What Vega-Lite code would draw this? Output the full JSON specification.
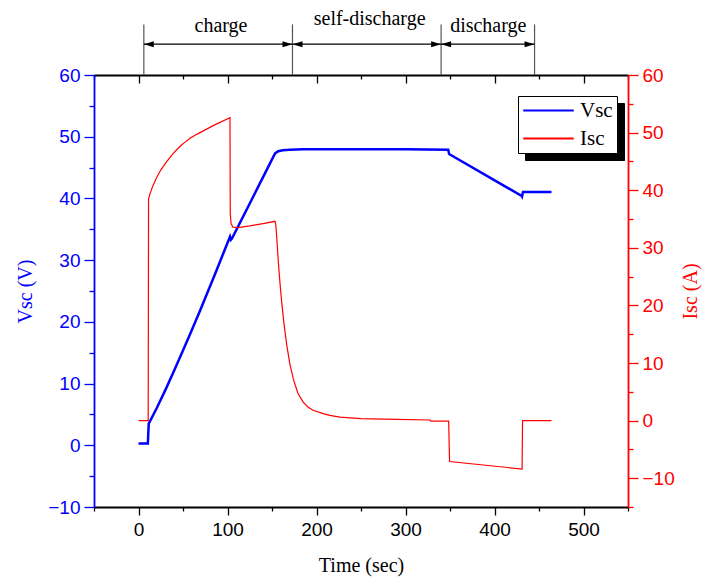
{
  "$schema": "https://vega.github.io/schema/vega-lite/v6.json",
  "width": 534,
  "height": 432,
  "autosize": {"type": "none"},
  "padding": {"left": 94, "top": 75, "right": 74, "bottom": 74},
  "background": "#ffffff",
  "datasets": {
    "readings": [
      {"series": "Vsc", "t": 0, "value": 0.3},
      {"series": "Vsc", "t": 10.5, "value": 0.3},
      {"series": "Vsc", "t": 11.5, "value": 3.5},
      {"series": "Vsc", "t": 20.4, "value": 6.0},
      {"series": "Vsc", "t": 30, "value": 8.9},
      {"series": "Vsc", "t": 39.1, "value": 11.8},
      {"series": "Vsc", "t": 48, "value": 14.7},
      {"series": "Vsc", "t": 57.9, "value": 18.0},
      {"series": "Vsc", "t": 69.1, "value": 21.8},
      {"series": "Vsc", "t": 85, "value": 27.4},
      {"series": "Vsc", "t": 102.8, "value": 33.8},
      {"series": "Vsc", "t": 103.8, "value": 33.3},
      {"series": "Vsc", "t": 105, "value": 33.5},
      {"series": "Vsc", "t": 130, "value": 40.6},
      {"series": "Vsc", "t": 153.4, "value": 47.3},
      {"series": "Vsc", "t": 157, "value": 47.65},
      {"series": "Vsc", "t": 162, "value": 47.82},
      {"series": "Vsc", "t": 170, "value": 47.9},
      {"series": "Vsc", "t": 185, "value": 47.95},
      {"series": "Vsc", "t": 250, "value": 47.95},
      {"series": "Vsc", "t": 300, "value": 47.95},
      {"series": "Vsc", "t": 348, "value": 47.9},
      {"series": "Vsc", "t": 349, "value": 47.2},
      {"series": "Vsc", "t": 430.5, "value": 40.4},
      {"series": "Vsc", "t": 430.9, "value": 40.3},
      {"series": "Vsc", "t": 432, "value": 41.05},
      {"series": "Vsc", "t": 464, "value": 41.05},
      {"series": "Isc", "t": 0, "value": 0},
      {"series": "Isc", "t": 10.9, "value": 0},
      {"series": "Isc", "t": 11.3, "value": 38.5},
      {"series": "Isc", "t": 13, "value": 39.4},
      {"series": "Isc", "t": 16, "value": 40.7},
      {"series": "Isc", "t": 20.4, "value": 42.2},
      {"series": "Isc", "t": 25, "value": 43.5},
      {"series": "Isc", "t": 30, "value": 44.6},
      {"series": "Isc", "t": 35, "value": 45.6},
      {"series": "Isc", "t": 39.1, "value": 46.4},
      {"series": "Isc", "t": 44, "value": 47.2},
      {"series": "Isc", "t": 48, "value": 47.8},
      {"series": "Isc", "t": 52, "value": 48.3},
      {"series": "Isc", "t": 57.9, "value": 49.0},
      {"series": "Isc", "t": 63, "value": 49.5},
      {"series": "Isc", "t": 69.1, "value": 50.0},
      {"series": "Isc", "t": 85, "value": 51.3},
      {"series": "Isc", "t": 102.8, "value": 52.6},
      {"series": "Isc", "t": 103.1, "value": 36.0},
      {"series": "Isc", "t": 104, "value": 34.2},
      {"series": "Isc", "t": 106, "value": 33.6},
      {"series": "Isc", "t": 112, "value": 33.5},
      {"series": "Isc", "t": 125, "value": 33.8},
      {"series": "Isc", "t": 140, "value": 34.2},
      {"series": "Isc", "t": 153.4, "value": 34.6},
      {"series": "Isc", "t": 154.3, "value": 34.0},
      {"series": "Isc", "t": 155.5, "value": 31.4},
      {"series": "Isc", "t": 157.1, "value": 27.6},
      {"series": "Isc", "t": 159, "value": 23.8},
      {"series": "Isc", "t": 161, "value": 20.4},
      {"series": "Isc", "t": 163.5, "value": 16.8},
      {"series": "Isc", "t": 166.5, "value": 13.2},
      {"series": "Isc", "t": 170, "value": 9.9},
      {"series": "Isc", "t": 174, "value": 7.2},
      {"series": "Isc", "t": 179, "value": 4.8},
      {"series": "Isc", "t": 185, "value": 3.2},
      {"series": "Isc", "t": 190, "value": 2.4},
      {"series": "Isc", "t": 196, "value": 1.8},
      {"series": "Isc", "t": 207.6, "value": 1.2},
      {"series": "Isc", "t": 215, "value": 0.9},
      {"series": "Isc", "t": 226.4, "value": 0.6},
      {"series": "Isc", "t": 250, "value": 0.35},
      {"series": "Isc", "t": 290, "value": 0.2},
      {"series": "Isc", "t": 327.5, "value": 0.1},
      {"series": "Isc", "t": 328.5, "value": -0.1},
      {"series": "Isc", "t": 348.5, "value": -0.1},
      {"series": "Isc", "t": 349.5, "value": -7.1},
      {"series": "Isc", "t": 431, "value": -8.4},
      {"series": "Isc", "t": 431.5, "value": 0},
      {"series": "Isc", "t": 464, "value": 0}
    ],
    "phases": [
      {"phase": "charge", "start": 6, "end": 173, "label_t": 92.7},
      {"phase": "self-discharge", "start": 173, "end": 340, "label_t": 259.7},
      {"phase": "discharge", "start": 340, "end": 445, "label_t": 393}
    ],
    "boundaries": [
      {"time": 6},
      {"time": 173},
      {"time": 340},
      {"time": 445}
    ]
  },
  "resolve": {
    "scale": {"y": "independent"},
    "axis": {"x": "independent", "y": "independent"}
  },
  "layer": [
    {
      "data": {"name": "readings"},
      "transform": [{"filter": "datum.series === 'Vsc'"}],
      "mark": {"type": "line", "strokeWidth": 2.5},
      "encoding": {
        "x": {
          "field": "t", "type": "quantitative",
          "scale": {"domain": [-50, 550], "nice": false, "zero": false},
          "axis": {
            "orient": "bottom", "values": [0, 100, 200, 300, 400, 500],
            "tickSize": 8, "labelPadding": 5, "labelFlush": false,
            "domainColor": "#000000", "tickColor": "#000000", "labelColor": "#000000",
            "title": "Time (sec)", "titleColor": "#000000", "titlePadding": 16
          }
        },
        "y": {
          "field": "value", "type": "quantitative",
          "scale": {"domain": [-10, 60], "nice": false, "zero": false},
          "axis": {
            "orient": "left", "values": [-10, 0, 10, 20, 30, 40, 50, 60],
            "tickSize": 10, "labelPadding": 4,
            "domainColor": "#0000ff", "tickColor": "#0000ff", "labelColor": "#0000ff",
            "title": "Vsc (V)", "titleColor": "#0000ff", "titlePadding": 12
          }
        },
        "color": {
          "field": "series", "type": "nominal",
          "scale": {"domain": ["Vsc", "Isc"], "range": ["#0000ff", "#ff0000"]},
          "legend": {
            "title": null, "legendX": 424, "legendY": 21,
            "fillColor": "#ffffff", "strokeColor": "#000000", "zindex": 2
          }
        }
      }
    },
    {
      "data": {"name": "readings"},
      "transform": [{"filter": "datum.series === 'Isc'"}],
      "mark": {"type": "line", "strokeWidth": 1.2},
      "encoding": {
        "x": {
          "field": "t", "type": "quantitative",
          "scale": {"domain": [-50, 550], "nice": false, "zero": false},
          "axis": {
            "orient": "top", "values": [0, 100, 200, 300, 400, 500],
            "tickSize": -8, "labels": false,
            "domainColor": "#000000", "tickColor": "#000000", "title": null
          }
        },
        "y": {
          "field": "value", "type": "quantitative",
          "scale": {"domain": [-15, 60], "nice": false, "zero": false},
          "axis": {
            "orient": "right", "values": [-10, 0, 10, 20, 30, 40, 50, 60],
            "tickSize": 10, "labelPadding": 4,
            "domainColor": "#ff0000", "tickColor": "#ff0000", "labelColor": "#ff0000",
            "title": "Isc (A)", "titleColor": "#ff0000", "titlePadding": 6,
            "titleAngle": 270, "titleBaseline": "top"
          }
        },
        "color": {"field": "series", "type": "nominal"}
      }
    },
    {
      "data": {"name": "readings"},
      "mark": {"type": "line", "opacity": 0},
      "encoding": {
        "x": {
          "field": "t", "type": "quantitative",
          "axis": {
            "orient": "top", "values": [-50, 50, 150, 250, 350, 450, 550],
            "tickSize": -4, "labels": false, "domain": false,
            "tickColor": "#000000", "title": null
          }
        },
        "y": {
          "field": "value", "type": "quantitative",
          "scale": {"domain": [-15, 60], "nice": false, "zero": false},
          "axis": {
            "orient": "right", "values": [-15, -5, 5, 15, 25, 35, 45, 55],
            "tickSize": 5, "labels": false, "domain": false,
            "tickColor": "#ff0000", "title": null
          }
        },
        "strokeDash": {
          "field": "series", "type": "nominal",
          "legend": {
            "title": null, "legendX": 431, "legendY": 28,
            "fillColor": "#000000", "strokeColor": "#000000",
            "labelExpr": "''", "labelOffset": 38,
            "symbolStrokeColor": "#000000", "zindex": 1
          }
        }
      }
    },
    {
      "data": {"name": "boundaries"},
      "mark": {"type": "rule", "color": "#555555", "strokeWidth": 1.2},
      "encoding": {
        "x": {
          "field": "time", "type": "quantitative",
          "axis": {
            "orient": "bottom", "values": [-50, 50, 150, 250, 350, 450, 550],
            "tickSize": 4, "labels": false, "domain": false,
            "tickColor": "#000000", "title": null
          }
        },
        "y": {
          "datum": 60, "type": "quantitative",
          "scale": {"domain": [-10, 60], "nice": false, "zero": false},
          "axis": {
            "orient": "left", "values": [-5, 5, 15, 25, 35, 45, 55],
            "tickSize": 5, "labels": false, "domain": false,
            "tickColor": "#0000ff", "title": null
          }
        },
        "y2": {"datum": 68.2}
      }
    },
    {
      "data": {"name": "phases"},
      "mark": {"type": "rule", "color": "#000000", "strokeWidth": 1.2},
      "encoding": {
        "x": {"field": "start", "type": "quantitative", "axis": null},
        "x2": {"field": "end"},
        "y": {
          "datum": 65, "type": "quantitative",
          "scale": {"domain": [-10, 60], "nice": false, "zero": false},
          "axis": null
        }
      }
    },
    {
      "data": {"name": "phases"},
      "mark": {
        "type": "point", "shape": "M0,0L2,-0.6L2,0.6Z", "size": 100,
        "filled": true, "color": "#000000", "opacity": 1, "strokeWidth": 0
      },
      "encoding": {
        "x": {"field": "start", "type": "quantitative", "axis": null},
        "y": {
          "datum": 65, "type": "quantitative",
          "scale": {"domain": [-10, 60], "nice": false, "zero": false},
          "axis": null
        }
      }
    },
    {
      "data": {"name": "phases"},
      "mark": {
        "type": "point", "shape": "M0,0L-2,-0.6L-2,0.6Z", "size": 100,
        "filled": true, "color": "#000000", "opacity": 1, "strokeWidth": 0
      },
      "encoding": {
        "x": {"field": "end", "type": "quantitative", "axis": null},
        "y": {
          "datum": 65, "type": "quantitative",
          "scale": {"domain": [-10, 60], "nice": false, "zero": false},
          "axis": null
        }
      }
    },
    {
      "data": {"name": "phases"},
      "transform": [{"filter": "datum.phase !== 'self-discharge'"}],
      "mark": {
        "type": "text", "font": "Liberation Serif", "fontSize": 20,
        "color": "#000000", "align": "center", "baseline": "alphabetic"
      },
      "encoding": {
        "x": {"field": "label_t", "type": "quantitative", "axis": null},
        "y": {
          "datum": 66.97, "type": "quantitative",
          "scale": {"domain": [-10, 60], "nice": false, "zero": false},
          "axis": null
        },
        "text": {"field": "phase"}
      }
    },
    {
      "data": {"name": "phases"},
      "transform": [{"filter": "datum.phase === 'self-discharge'"}],
      "mark": {
        "type": "text", "font": "Liberation Serif", "fontSize": 20,
        "color": "#000000", "align": "center", "baseline": "alphabetic"
      },
      "encoding": {
        "x": {"field": "label_t", "type": "quantitative", "axis": null},
        "y": {
          "datum": 68.1, "type": "quantitative",
          "scale": {"domain": [-10, 60], "nice": false, "zero": false},
          "axis": null
        },
        "text": {"field": "phase"}
      }
    }
  ],
  "config": {
    "view": {"stroke": null},
    "axis": {
      "grid": false,
      "labelFont": "Liberation Sans",
      "labelFontSize": 19,
      "titleFont": "Liberation Serif",
      "titleFontSize": 20,
      "titleFontWeight": "normal",
      "tickWidth": 1.3,
      "domainWidth": 1.8
    },
    "legend": {
      "orient": "none",
      "labelFont": "Liberation Serif",
      "labelFontSize": 21,
      "symbolType": "stroke",
      "symbolSize": 2550,
      "symbolStrokeWidth": 2,
      "clipHeight": 21,
      "padding": 4,
      "rowPadding": 6,
      "labelOffset": 5,
      "strokeWidth": 1
    }
  }
}
